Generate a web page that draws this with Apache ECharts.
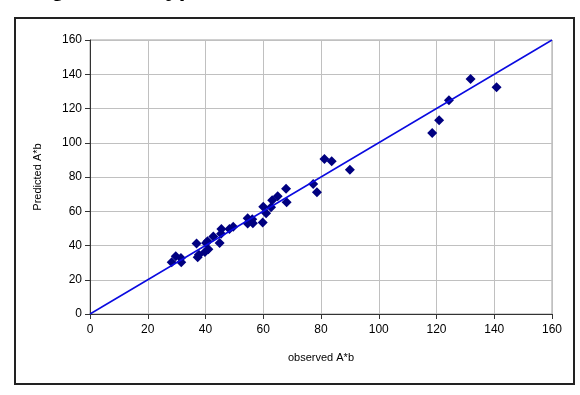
<!DOCTYPE html>
<html>
<head>
<meta charset="utf-8">
<script src="https://cdn.jsdelivr.net/npm/echarts@6/dist/echarts.min.js"></script>
<style>
  html, body { margin: 0; padding: 0; background: #fff; }
  #chart { width: 580px; height: 395px; }
</style>
</head>
<body>
<div id="chart"></div>
<script>
// observed vs predicted A*b
const observed = [
  131.8, 140.8, 124.3, 120.9, 118.5, 81.2, 83.7, 90.0, 77.3, 78.6,
  67.9, 68.1, 65.0, 63.1, 62.7, 61.0, 60.0, 59.8, 56.4, 56.2,
  54.6, 54.6, 49.6, 48.3, 45.5, 45.4, 44.9, 42.7, 40.7, 40.2,
  41.0, 39.8, 36.9, 37.3, 37.7, 31.5, 31.6, 29.7, 28.3
]
const predicted = [
  137.2, 132.4, 124.8, 113.1, 105.7, 90.5, 89.2, 84.3, 75.9, 71.1,
  73.1, 65.3, 68.7, 66.4, 62.3, 58.8, 62.6, 53.4, 53.0, 55.3,
  55.9, 52.8, 51.0, 49.6, 49.6, 46.9, 41.5, 45.2, 42.5, 41.5,
  37.8, 36.2, 41.1, 33.1, 34.6, 32.7, 30.2, 33.7, 30.2
]
// 1:1 reference line
const lineX = [0, 160]
const lineY = [0, 160]
const axisTicks = [0, 20, 40, 60, 80, 100, 120, 140, 160]

const chart = echarts.init(document.getElementById('chart'), null, { renderer: 'canvas' })

const font = '"Liberation Sans", Arial, sans-serif'

chart.setOption({
  animation: false,
  backgroundColor: '#fff',
  graphic: [
    {
      type: 'rect',
      shape: { x: 15, y: 18, width: 559, height: 366 },
      style: { fill: 'none', stroke: '#222', lineWidth: 2 },
      z: 0
    },
    {
      // title is cut off by the top edge, only descenders show
      type: 'text',
      x: 20,
      y: 1,
      style: {
        text: 'Regression type',
        font: 'bold 24px ' + font,
        fill: '#000',
        verticalAlign: 'bottom'
      }
    }
  ],
  grid: {
    left: 90,
    right: 28,
    top: 40,
    bottom: 81,
    show: true,
    borderColor: '#a0a0a0',
    borderWidth: 1
  },
  xAxis: {
    type: 'value',
    min: axisTicks[0],
    max: axisTicks[axisTicks.length - 1],
    interval: 20,
    name: 'observed A*b',
    nameLocation: 'center',
    nameGap: 38,
    nameTextStyle: { fontFamily: font, fontSize: 11, color: '#000' },
    axisLine: { show: true, onZero: false, lineStyle: { color: '#333', width: 1 } },
    axisTick: { show: true, length: 5, lineStyle: { color: '#333' } },
    axisLabel: { fontFamily: font, fontSize: 12, color: '#000', margin: 10 },
    splitLine: { show: true, lineStyle: { color: '#c0c0c0', width: 1 } }
  },
  yAxis: {
    type: 'value',
    min: axisTicks[0],
    max: axisTicks[axisTicks.length - 1],
    interval: 20,
    name: 'Predicted A*b',
    nameLocation: 'center',
    nameGap: 47,
    nameRotate: 90,
    nameTextStyle: { fontFamily: font, fontSize: 11, color: '#000' },
    axisLine: { show: true, onZero: false, lineStyle: { color: '#333', width: 1 } },
    axisTick: { show: true, length: 5, lineStyle: { color: '#333' } },
    axisLabel: { fontFamily: font, fontSize: 12, color: '#000', margin: 8 },
    splitLine: { show: true, lineStyle: { color: '#c0c0c0', width: 1 } }
  },
  series: [
    {
      type: 'scatter',
      symbol: 'diamond',
      symbolSize: 10,
      itemStyle: { color: '#000080', opacity: 1 },
      data: observed.map((x, i) => [x, predicted[i]]),
      z: 3
    },
    {
      type: 'line',
      showSymbol: false,
      symbol: 'none',
      lineStyle: { color: '#0a0ae0', width: 1.5 },
      data: lineX.map((x, i) => [x, lineY[i]]),
      z: 4
    }
  ]
})
</script>
</body>
</html>
